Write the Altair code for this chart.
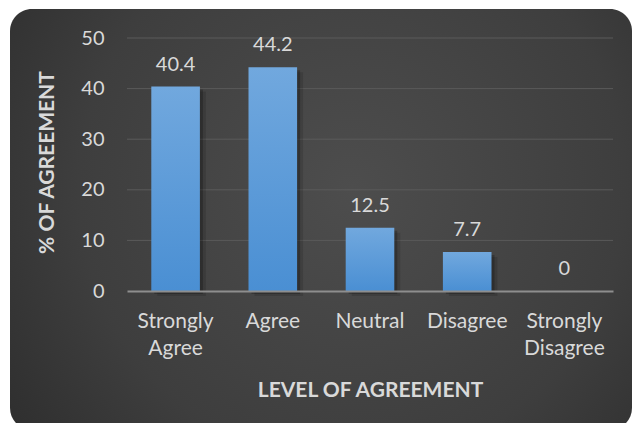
import altair as alt
import pandas as pd

# Survey results: share of respondents per agreement level
categories = ["Strongly Agree", "Agree", "Neutral", "Disagree", "Strongly Disagree"]
percent = [40.4, 44.2, 12.5, 7.7, 0]
y_ticks = [0, 10, 20, 30, 40, 50]

df = pd.DataFrame({"level": categories, "pct": percent})
grid_df = pd.DataFrame({"pct": y_ticks[1:]})

FONT = "Lato"
TEXT = "#d9d9d9"
PLOT_W, PLOT_H = 486, 253
PAD = {"left": 127, "top": 38, "right": 20, "bottom": 132}

y_scale = alt.Scale(domain=[0, 50], nice=False)

x_axis = alt.Axis(
    title="LEVEL OF AGREEMENT",
    labelAngle=0,
    labelExpr="split(datum.label, ' ')",
    labelFont=FONT,
    labelFontSize=21,
    labelColor=TEXT,
    labelLineHeight=27,
    labelPadding=19,
    labelBaseline="top",
    ticks=False,
    domain=True,
    domainColor="#8e8e8e",
    domainWidth=2,
    grid=False,
    zindex=1,
    titleFont=FONT,
    titleFontSize=21,
    titleFontWeight="bold",
    titleColor=TEXT,
    titleBaseline="alphabetic",
    titleY=105,
)
y_axis = alt.Axis(
    title="% OF AGREEMENT",
    values=y_ticks,
    labelFont=FONT,
    labelFontSize=20,
    labelColor=TEXT,
    labelPadding=23,
    ticks=False,
    domain=False,
    grid=False,
    zindex=1,
    titleFont=FONT,
    titleFontSize=21,
    titleFontWeight="bold",
    titleColor=TEXT,
    titleBaseline="alphabetic",
    titleAngle=-90,
    titleX=-74,
    titleY=124,
)

x_enc = alt.X(
    "level:N",
    sort=categories,
    scale=alt.Scale(paddingInner=0.5, paddingOuter=0.25),
    axis=x_axis,
)
y_enc = alt.Y("pct:Q", scale=y_scale, axis=y_axis)

# Dark rounded panel with a radial light falloff behind the plot
panel = alt.Chart(alt.Data(values=[{}])).mark_rect(
    cornerRadius=22,
    color=alt.Gradient(
        gradient="radial",
        stops=[
            alt.GradientStop(color="#4d4d4d", offset=0),
            alt.GradientStop(color="#3e3e3e", offset=0.55),
            alt.GradientStop(color="#262626", offset=1),
        ],
        x1=0.55, y1=0.45, r1=0,
        x2=0.55, y2=0.45, r2=0.8,
    ),
).encode(
    x=alt.value(-117), x2=alt.value(505),
    y=alt.value(-29), y2=alt.value(392),
)

# horizontal gridlines, kept behind the bars
grid = alt.Chart(grid_df).mark_rule(color="#5a5a5a", strokeWidth=1).encode(
    y=alt.Y("pct:Q", scale=y_scale, axis=y_axis),
    x=alt.value(0),
    x2=alt.value(PLOT_W),
)

base = alt.Chart(df).encode(x=x_enc, y=y_enc)

# soft drop shadow under each bar
shadow1 = base.mark_bar(color="#000000", opacity=0.22, xOffset=3, yOffset=3)
shadow2 = base.mark_bar(color="#000000", opacity=0.12, xOffset=6, yOffset=5)

bars = base.mark_bar(
    color=alt.Gradient(
        gradient="linear",
        stops=[
            alt.GradientStop(color="#71a8de", offset=0),
            alt.GradientStop(color="#4a8fd3", offset=1),
        ],
        x1=0, x2=0, y1=0, y2=1,
    )
)

labels = base.mark_text(
    font=FONT, fontSize=20, color=TEXT, baseline="alphabetic", dy=-16
).encode(text=alt.Text("pct:Q"))

chart = (
    alt.layer(panel, grid, shadow1, shadow2, bars, labels)
    .properties(
        width=PLOT_W,
        height=PLOT_H,
        autosize=alt.AutoSizeParams(type="none"),
        padding=PAD,
        background="#ffffff",
    )
    .configure_view(stroke=None)
)

chart.save("out.html", embed_options={"renderer": "svg", "actions": False})
